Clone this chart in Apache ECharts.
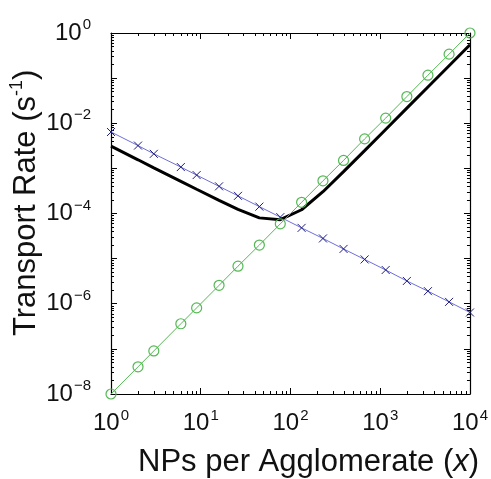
<!DOCTYPE html>
<html>
<head>
<meta charset="utf-8">
<script src="https://cdn.jsdelivr.net/npm/echarts@6/dist/echarts.min.js"></script>
<style>html,body{margin:0;padding:0;background:#fff;}#c{width:491px;height:479px;}</style>
</head>
<body>
<div id="c"></div>
<script>
// x positions (NPs per agglomerate)
const xs = [1, 2, 3, 6, 9, 16, 26, 45, 77, 133, 230, 390, 670, 1150, 1980, 3400, 5850, 10000];
// green (circles) series
const greenY = [1e-8, 4e-8, 9e-8, 3.6e-7, 8.1e-7, 2.56e-6, 6.8e-6, 2.0e-5, 5.9e-5, 1.77e-4, 5.3e-4, 1.5e-3, 4.5e-3, 1.3e-2, 3.9e-2, 0.116, 0.34, 1.0];
// blue (crosses) series
const blueY = [6.4e-3, 3.2e-3, 2.1e-3, 1.07e-3, 7.1e-4, 4.0e-4, 2.46e-4, 1.42e-4, 8.3e-5, 4.8e-5, 2.8e-5, 1.64e-5, 9.6e-6, 5.6e-6, 3.2e-6, 1.9e-6, 1.1e-6, 6.4e-7];
// black (total) series
const blackY = [3.1e-3, 1.55e-3, 1.03e-3, 5.17e-4, 3.45e-4, 1.95e-4, 1.23e-4, 8.0e-5, 7.3e-5, 1.21e-4, 3.04e-4, 8.45e-4, 2.47e-3, 7.27e-3, 2.16e-2, 6.36e-2, 0.188, 0.55];
// tick labels
const xLabelVals = [1, 10, 100, 1000, 10000];
const yLabelVals = [1e-8, 1e-6, 1e-4, 1e-2, 1];
const yMajorVals = [1e-8, 1e-7, 1e-6, 1e-5, 1e-4, 1e-3, 1e-2, 1e-1, 1];

function minorVals(e0, e1) {
  const out = [];
  for (let e = e0; e < e1; e++) for (let m = 2; m <= 9; m++) out.push(m * Math.pow(10, e));
  return out;
}
const xMinorVals = minorVals(0, 4);
const yMinorVals = minorVals(-8, 0);

const FONT = 'Liberation Sans, Arial, Helvetica, sans-serif';
function expLabel(v) {
  const e = Math.round(Math.log10(v));
  return '{a|10}{b|' + (e < 0 ? '\u2212' + (-e) : e) + '}';
}
const richLab = {
  a: { fontSize: 24, fontFamily: FONT, color: '#111' },
  b: { fontSize: 15, fontFamily: FONT, color: '#111', padding: [0, 0, 16, 1] }
};

function xAx(pos, ticks, len, labels) {
  return {
    type: 'log', logBase: 10, min: 1, max: 10000, position: pos, gridIndex: 0,
    axisLine: { show: ticks === 'major', lineStyle: { color: '#000', width: 1.2 } },
    axisTick: { show: true, inside: true, length: len, customValues: ticks === 'major' ? xLabelVals : xMinorVals, lineStyle: { color: '#000', width: 1 } },
    axisLabel: labels ? { show: true, customValues: xLabelVals, formatter: expLabel, rich: richLab, margin: 14 } : { show: false },
    splitLine: { show: false }, minorTick: { show: false }
  };
}
function yAx(pos, ticks, len, labels) {
  return {
    type: 'log', logBase: 10, min: 1e-8, max: 1, position: pos, gridIndex: 0,
    axisLine: { show: ticks === 'major', lineStyle: { color: '#000', width: 1.2 } },
    axisTick: { show: true, inside: true, length: len, customValues: ticks === 'major' ? yMajorVals : yMinorVals, lineStyle: { color: '#000', width: 1 } },
    axisLabel: labels ? { show: true, customValues: yLabelVals, formatter: expLabel, rich: richLab, margin: 20 } : { show: false },
    splitLine: { show: false }, minorTick: { show: false }
  };
}

const chart = echarts.init(document.getElementById('c'));
chart.setOption({
  animation: false,
  backgroundColor: '#fff',
  grid: { left: 111, right: 18, top: 33, bottom: 85 },
  xAxis: [xAx('bottom', 'major', 6, true), xAx('top', 'major', 6, false), xAx('bottom', 'minor', 3, false), xAx('top', 'minor', 3, false)],
  yAxis: [yAx('left', 'major', 6, true), yAx('right', 'major', 6, false), yAx('left', 'minor', 3, false), yAx('right', 'minor', 3, false)],
  graphic: [
    { type: 'text', left: 138, top: 447, style: { text: 'NPs per Agglomerate ({i|x})', font: '31px ' + FONT, fill: '#111',
      rich: { i: { fontStyle: 'italic', fontSize: 31, fontFamily: FONT, fill: '#111' } } } },
    { type: 'text', x: 8, y: 336, rotation: Math.PI / 2, style: { text: 'Transport Rate (s{s|-1})', font: '31px ' + FONT, fill: '#111',
      rich: { s: { fontSize: 18, fontFamily: FONT, fill: '#111', padding: [0, 0, 18, 0] } } } }
  ],
  series: [
    { name: 'blue', type: 'line', data: xs.map((x, i) => [x, blueY[i]]), symbol: 'path://M0,0L10,10M0,10L10,0', symbolSize: 8,
      lineStyle: { color: '#6f6fd8', width: 1 }, itemStyle: { color: '#1f1f80', borderColor: '#1f1f80', borderWidth: 1 }, z: 2 },
    { name: 'black', type: 'line', data: xs.map((x, i) => [x, blackY[i]]), symbol: 'none',
      lineStyle: { color: '#000', width: 3 }, z: 3 },
    { name: 'green', type: 'line', data: xs.map((x, i) => [x, greenY[i]]), symbol: 'circle', symbolSize: 10,
      lineStyle: { color: '#55b855', width: 1 }, itemStyle: { color: 'rgba(0,0,0,0)', borderColor: '#55b855', borderWidth: 1.2 }, z: 4 }
  ]
});
</script>
</body>
</html>
